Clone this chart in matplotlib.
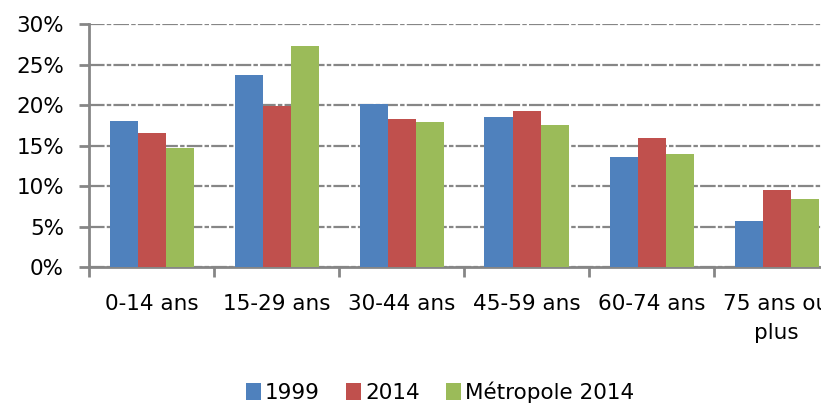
import numpy as np
import matplotlib
matplotlib.use("Agg")
import matplotlib.pyplot as plt

# age groups and shares (%)
categories = ["0-14 ans", "15-29 ans", "30-44 ans", "45-59 ans", "60-74 ans", "75 ans ou\nplus"]
v1999 = [18.0, 23.7, 20.1, 18.5, 13.6, 5.7]
v2014 = [16.6, 19.9, 18.3, 19.3, 15.9, 9.5]
metro2014 = [14.7, 27.3, 17.9, 17.5, 14.0, 8.4]
series_names = ["1999", "2014", "Métropole 2014"]
colors = ["#4F81BD", "#C0504D", "#9BBB59"]
yticks = [0, 5, 10, 15, 20, 25, 30]

plt.rcParams['font.family'] = ['DejaVu Sans']

fig = plt.figure(figsize=(8.21, 4.03), dpi=100)
ax = fig.add_axes([89/821, 135.7/403, 750/821, 243.3/403])

x = np.arange(len(categories))
w = 0.224
for i, (vals, name, c) in enumerate(zip([v1999, v2014, metro2014], series_names, colors)):
    ax.bar(x + (i - 1) * w, vals, width=w, color=c, label=name, zorder=3)

ax.set_xlim(-0.5, len(categories) - 0.5)
ax.set_ylim(0, 30)
ax.set_yticks(yticks)
ax.set_yticklabels(["%d%%" % t for t in yticks])

grid_c = "#868686"
ax.yaxis.grid(True, color=grid_c, linewidth=1.6, linestyle=(0, (7, 1, 2, 1)), zorder=0)
ax.set_axisbelow(True)

ax.set_xticks(x)
ax.set_xticklabels(categories, linespacing=1.6)
ax.set_xticks(np.arange(len(categories) + 1) - 0.5, minor=True)
ax.tick_params(axis='x', which='major', length=0, pad=19, labelsize=15.5)
ax.tick_params(axis='x', which='minor', length=7, width=2, color=grid_c, direction='out')
ax.tick_params(axis='y', length=7, width=2, color=grid_c, pad=11, labelsize=15.5)

for s in ["top", "right"]:
    ax.spines[s].set_visible(False)
for s in ["left", "bottom"]:
    ax.spines[s].set_color(grid_c)
    ax.spines[s].set_linewidth(2)

handles, labels = ax.get_legend_handles_labels()
fig.legend(handles, labels, loc='center', bbox_to_anchor=(440/821, 1 - 392/403),
           ncol=3, frameon=False, fontsize=15.5, handlelength=0.7, handleheight=0.8,
           handletextpad=0.2, columnspacing=1.2)

fig.savefig("out.png", dpi=100)
